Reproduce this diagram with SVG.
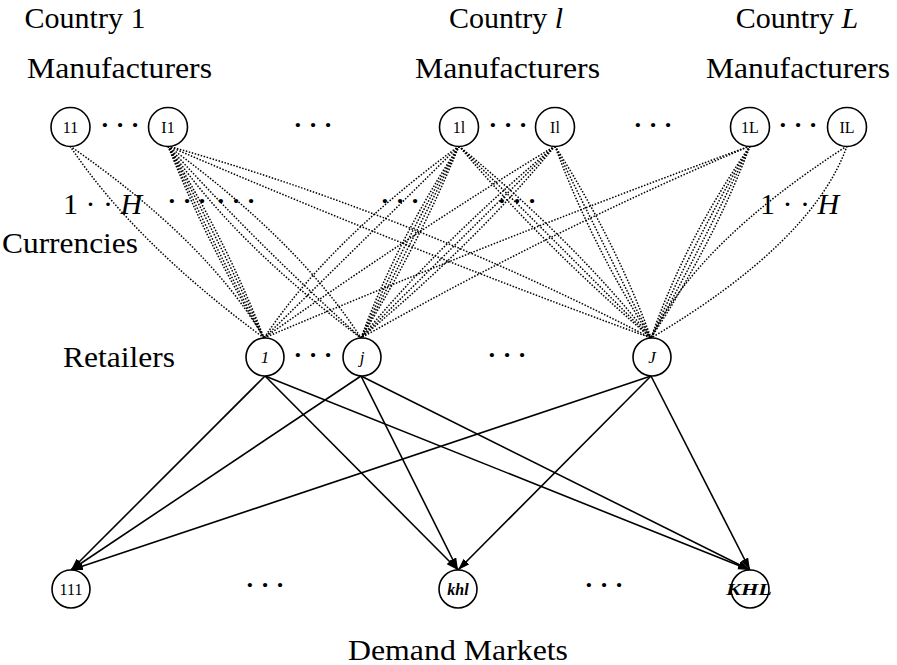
<svg xmlns="http://www.w3.org/2000/svg" width="897" height="665" viewBox="0 0 897 665">
<style>
  .lbl { font-family: "Liberation Serif", "DejaVu Serif", serif; font-size: 30px; fill: #000; }
  .dots { font-family: "Liberation Serif", "DejaVu Serif", serif; font-size: 26px; font-weight: bold; fill: #000; text-anchor: middle; }
  .nl { font-family: "Liberation Serif", "DejaVu Serif", serif; font-size: 16px; fill: #000; text-anchor: middle; }
  .it { font-style: italic; }
  .d { fill: none; stroke: #000; stroke-width: 1.5; stroke-dasharray: 1.5 1.6; }
  .s { fill: none; stroke: #000; stroke-width: 1.6; marker-end: url(#ah); }
  .node { fill: #fff; stroke: #000; stroke-width: 1.6; }
</style>
<defs>
  <marker id="ah" markerUnits="userSpaceOnUse" markerWidth="13" markerHeight="9" refX="12" refY="4" orient="auto">
    <path d="M0,0 L12,4 L0,8 z" fill="#000"/>
  </marker>
</defs>
<rect width="897" height="665" fill="#fff"/>

<g id="labels">
  <text class="lbl" x="85" y="28" text-anchor="middle">Country 1</text>
  <text class="lbl" x="506" y="28" text-anchor="middle">Country <tspan font-style="italic">l</tspan></text>
  <text class="lbl" x="797" y="28" text-anchor="middle">Country <tspan font-style="italic">L</tspan></text>
  <text class="lbl" x="27" y="78" textLength="185" lengthAdjust="spacingAndGlyphs">Manufacturers</text>
  <text class="lbl" x="415" y="78" textLength="185" lengthAdjust="spacingAndGlyphs">Manufacturers</text>
  <text class="lbl" x="706" y="78" textLength="184" lengthAdjust="spacingAndGlyphs">Manufacturers</text>
  <text class="lbl" x="63" y="214">1 · · <tspan font-style="italic">H</tspan></text>
  <text class="lbl" x="760" y="214">1 · · <tspan font-style="italic">H</tspan></text>
  <text class="lbl" x="2" y="253" textLength="136" lengthAdjust="spacingAndGlyphs">Currencies</text>
  <text class="lbl" x="63" y="367" textLength="112" lengthAdjust="spacingAndGlyphs">Retailers</text>
  <text class="lbl" x="458" y="660" text-anchor="middle" textLength="220" lengthAdjust="spacingAndGlyphs">Demand Markets</text>
</g>

<g id="ellipses">
  <text class="dots" x="120" y="133">· · ·</text>
  <text class="dots" x="313" y="133">· · ·</text>
  <text class="dots" x="508" y="133">· · ·</text>
  <text class="dots" x="653" y="133">· · ·</text>
  <text class="dots" x="798" y="133">· · ·</text>
  <text class="dots" x="187" y="209">· · ·</text>
  <text class="dots" x="236" y="209">· · ·</text>
  <text class="dots" x="400" y="209">· · ·</text>
  <text class="dots" x="517" y="209">· · ·</text>
  <text class="dots" x="313" y="363">· · ·</text>
  <text class="dots" x="507" y="363">· · ·</text>
  <text class="dots" x="265" y="593">· · ·</text>
  <text class="dots" x="604" y="593">· · ·</text>
</g>

<g id="connectors">
  <!-- manufacturer 11 -->
  <path class="d" d="M70,146 Q134,242 264,338"/>
  <path class="d" d="M70,146 Q208,242 264,338"/>
  <!-- manufacturer I1 -->
  <path class="d" d="M168,146 Q206,242 264,338"/>
  <path class="d" d="M168,146 Q212,242 264,338"/>
  <path class="d" d="M168,146 Q220,242 264,338"/>
  <path class="d" d="M168,146 Q227,242 264,338"/>
  <path class="d" d="M168,146 Q233,242 361,338"/>
  <path class="d" d="M168,146 Q255,242 361,338"/>
  <path class="d" d="M168,146 Q299,242 361,338"/>
  <path class="d" d="M168,146 Q410,214 651,338"/>
  <path class="d" d="M168,146 Q410,250 651,338"/>
  <!-- manufacturer 1l -->
  <path class="d" d="M459,146 Q328,242 264,338"/>
  <path class="d" d="M459,146 Q362,242 264,338"/>
  <path class="d" d="M459,146 Q396,242 361,338"/>
  <path class="d" d="M459,146 Q404,242 361,338"/>
  <path class="d" d="M459,146 Q412,242 361,338"/>
  <path class="d" d="M459,146 Q420,242 361,338"/>
  <path class="d" d="M459,146 Q540,242 651,338"/>
  <path class="d" d="M459,146 Q556,242 651,338"/>
  <path class="d" d="M459,146 Q575,242 651,338"/>
  <!-- manufacturer Il -->
  <path class="d" d="M555,146 Q420,228 264,338"/>
  <path class="d" d="M555,146 Q440,242 361,338"/>
  <path class="d" d="M555,146 Q458,242 361,338"/>
  <path class="d" d="M555,146 Q476,242 361,338"/>
  <path class="d" d="M555,146 Q590,242 651,338"/>
  <path class="d" d="M555,146 Q602,242 651,338"/>
  <path class="d" d="M555,146 Q616,242 651,338"/>
  <!-- manufacturer 1L -->
  <path class="d" d="M750,146 Q500,238 264,338"/>
  <path class="d" d="M750,146 Q560,226 361,338"/>
  <path class="d" d="M750,146 Q684,242 651,338"/>
  <path class="d" d="M750,146 Q694,242 651,338"/>
  <path class="d" d="M750,146 Q704,242 651,338"/>
  <path class="d" d="M750,146 Q714,242 651,338"/>
  <!-- manufacturer IL -->
  <path class="d" d="M847,146 Q698,242 651,338"/>
  <path class="d" d="M847,146 Q813,242 651,338"/>
  <!-- retailers to demand markets -->
  <path class="s" d="M265,376 L71,570"/>
  <path class="s" d="M265,376 L458,570"/>
  <path class="s" d="M265,376 L750,570"/>
  <path class="s" d="M361,376 L71,570"/>
  <path class="s" d="M361,376 L458,570"/>
  <path class="s" d="M361,376 L750,570"/>
  <path class="s" d="M651,376 L71,570"/>
  <path class="s" d="M651,376 L458,570"/>
  <path class="s" d="M651,376 L750,570"/>
</g>

<g id="m11"><circle class="node" cx="70.5" cy="127" r="19.5"/><text class="nl" x="70.5" y="132.5">11</text></g>
<g id="mI1"><circle class="node" cx="168" cy="127" r="19.5"/><text class="nl" x="168" y="132.5">I1</text></g>
<g id="m1l"><circle class="node" cx="459" cy="127" r="19.5"/><text class="nl" x="459" y="132.5">1l</text></g>
<g id="mIl"><circle class="node" cx="555" cy="127" r="19.5"/><text class="nl" x="555" y="132.5">Il</text></g>
<g id="m1L"><circle class="node" cx="750" cy="127" r="19.5"/><text class="nl" x="750" y="132.5">1L</text></g>
<g id="mIL"><circle class="node" cx="847" cy="127" r="19.5"/><text class="nl" x="847" y="132.5">IL</text></g>

<g id="r1"><circle class="node" cx="265" cy="357" r="19"/><text class="nl it" x="265" y="363" style="font-size:17px">1</text></g>
<g id="rj"><circle class="node" cx="362" cy="357" r="19"/><text class="nl it" x="362" y="363" style="font-size:17px">j</text></g>
<g id="rJ"><circle class="node" cx="652" cy="357" r="19"/><text class="nl it" x="652" y="363" style="font-size:17px">J</text></g>

<g id="d111"><circle class="node" cx="71" cy="589" r="19"/><text class="nl" x="71" y="594.5" style="font-size:16px">111</text></g>
<g id="dkhl"><circle class="node" cx="458" cy="589" r="19"/><text class="nl it" x="458" y="594.5" style="font-size:16px;font-weight:bold">khl</text></g>
<g id="dKHL"><circle class="node" cx="750" cy="589" r="19"/><text class="nl it" x="726" y="594.5" style="font-size:16px;font-weight:bold;text-anchor:start" textLength="46" lengthAdjust="spacingAndGlyphs">KHL</text></g>
</svg>
